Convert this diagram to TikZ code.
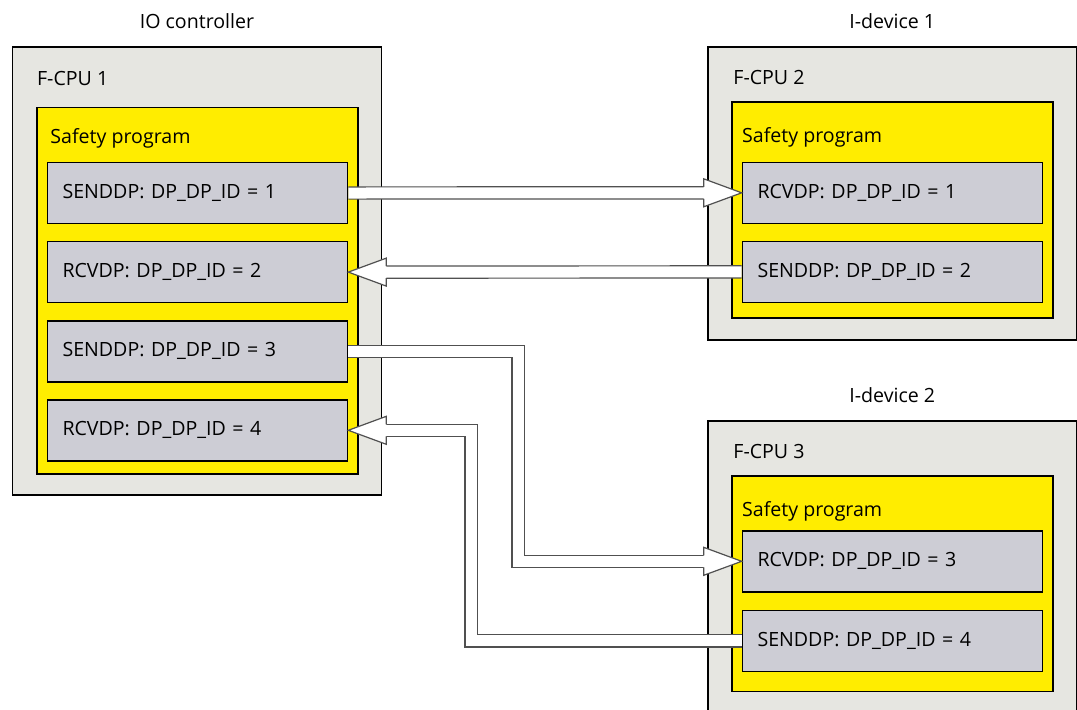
\documentclass[tikz,border=0pt]{standalone}
\usepackage{fontspec}
\setmainfont{Open Sans}
\usetikzlibrary{positioning,calc}

\definecolor{cpugray}{RGB}{230,230,225}
\definecolor{progyellow}{RGB}{255,237,0}
\definecolor{blockgray}{RGB}{205,205,213}
\definecolor{pipeline}{RGB}{80,80,80}

\tikzset{
  blockhead/.pic={
    \path[fill=white, draw=pipeline, line width=0.6pt]
      (-38,6) -- (-38,14) -- (0,0) -- (-38,-14) -- (-38,-6);
  }
}

\begin{document}
\begin{tikzpicture}[
  x=0.5pt, y=-0.5pt,
  font=\fontsize{9.8}{12}\selectfont,
  cpu/.style={draw, fill=cpugray, line width=0.8pt, anchor=north west, inner sep=0pt, minimum width=184.5pt},
  prog/.style={draw, fill=progyellow, line width=0.8pt, anchor=north west, inner sep=0pt, minimum width=160.7pt},
  block/.style={draw, fill=blockgray, line width=0.8pt, text width=135pt, inner xsep=7.5pt, minimum height=30.5pt, align=left},
  title/.style={anchor=base, inner sep=0pt},
  tag/.style={anchor=base west, inner sep=0pt},
  pipe/.style={draw=pipeline, line width=0.6pt, double=white, double distance=5.5pt}
]
  \clip (0,0) rectangle (1077,709);
  \fill[white] (0,0) rectangle (1077,709);

  % IO controller
  \node[cpu, minimum height=224pt] (cpu1) at (11.7,46) {};
  \node[title] (ioctrl) at ($(cpu1.north)+(0,-18)$) {IO controller};
  \node[tag] (cpu1tag) at (36.7,85) {F-CPU 1};
  \node[prog, minimum height=183.3pt] (prog1) at (36,106.7) {};
  \node[tag] (prog1tag) at (50,143) {Safety program};
  \node[block, anchor=north west] (send1) at (46.7,161.7) {SENDDP: DP\_DP\_ID = 1};
  \node[block, below=8.25pt of send1] (rcv2) {RCVDP: DP\_DP\_ID = 2};
  \node[block, below=8.25pt of rcv2] (send3) {SENDDP: DP\_DP\_ID = 3};
  \node[block, below=8.25pt of send3] (rcv4) {RCVDP: DP\_DP\_ID = 4};

  % I-device 1
  \node[cpu, minimum height=146.5pt] (cpu2) at (707,46) {};
  \node[title] (idev1) at ($(cpu2.north)+(0,-18)$) {I-device 1};
  \node[tag] (cpu2tag) at (733,84.3) {F-CPU 2};
  \node[prog, minimum height=108.2pt] (prog2) at (731,101) {};
  \node[tag] (prog2tag) at (741.7,142.7) {Safety program};
  \node[block, anchor=north west] (rcv1) at (741.7,161.5) {RCVDP: DP\_DP\_ID = 1};
  \node[block, below=8.25pt of rcv1] (send2) {SENDDP: DP\_DP\_ID = 2};

  % I-device 2
  \node[cpu, minimum height=150pt] (cpu3) at (707,420) {};
  \node[title] (idev2) at ($(cpu3.north)+(0,-18)$) {I-device 2};
  \node[tag] (cpu3tag) at (733,458.3) {F-CPU 3};
  \node[prog, minimum height=107.9pt] (prog3) at (731,475) {};
  \node[tag] (prog3tag) at (741.7,516) {Safety program};
  \node[block, anchor=north west] (rcv3) at (741.7,530) {RCVDP: DP\_DP\_ID = 3};
  \node[block, below=8.5pt of rcv3] (send4) {SENDDP: DP\_DP\_ID = 4};

  % connections
  \coordinate (bend3) at (518,0);
  \coordinate (bend4) at (471,0);

  \draw[pipe] (send1.east) -- ($(rcv1.west)+(-30,0)$);
  \pic at (rcv1.west) {blockhead};

  \draw[pipe] (send2.west) -- ($(rcv2.east)+(30,0)$);
  \pic[rotate=180] at (rcv2.east) {blockhead};

  \draw[pipe] (send3.east) -- (send3.east -| bend3) -- (bend3 |- rcv3.west) -- ($(rcv3.west)+(-30,0)$);
  \pic at (rcv3.west) {blockhead};

  \draw[pipe] (send4.west) -- (send4.west -| bend4) -- (bend4 |- rcv4.east) -- ($(rcv4.east)+(30,0)$);
  \pic[rotate=180] at (rcv4.east) {blockhead};
\end{tikzpicture}
\end{document}
